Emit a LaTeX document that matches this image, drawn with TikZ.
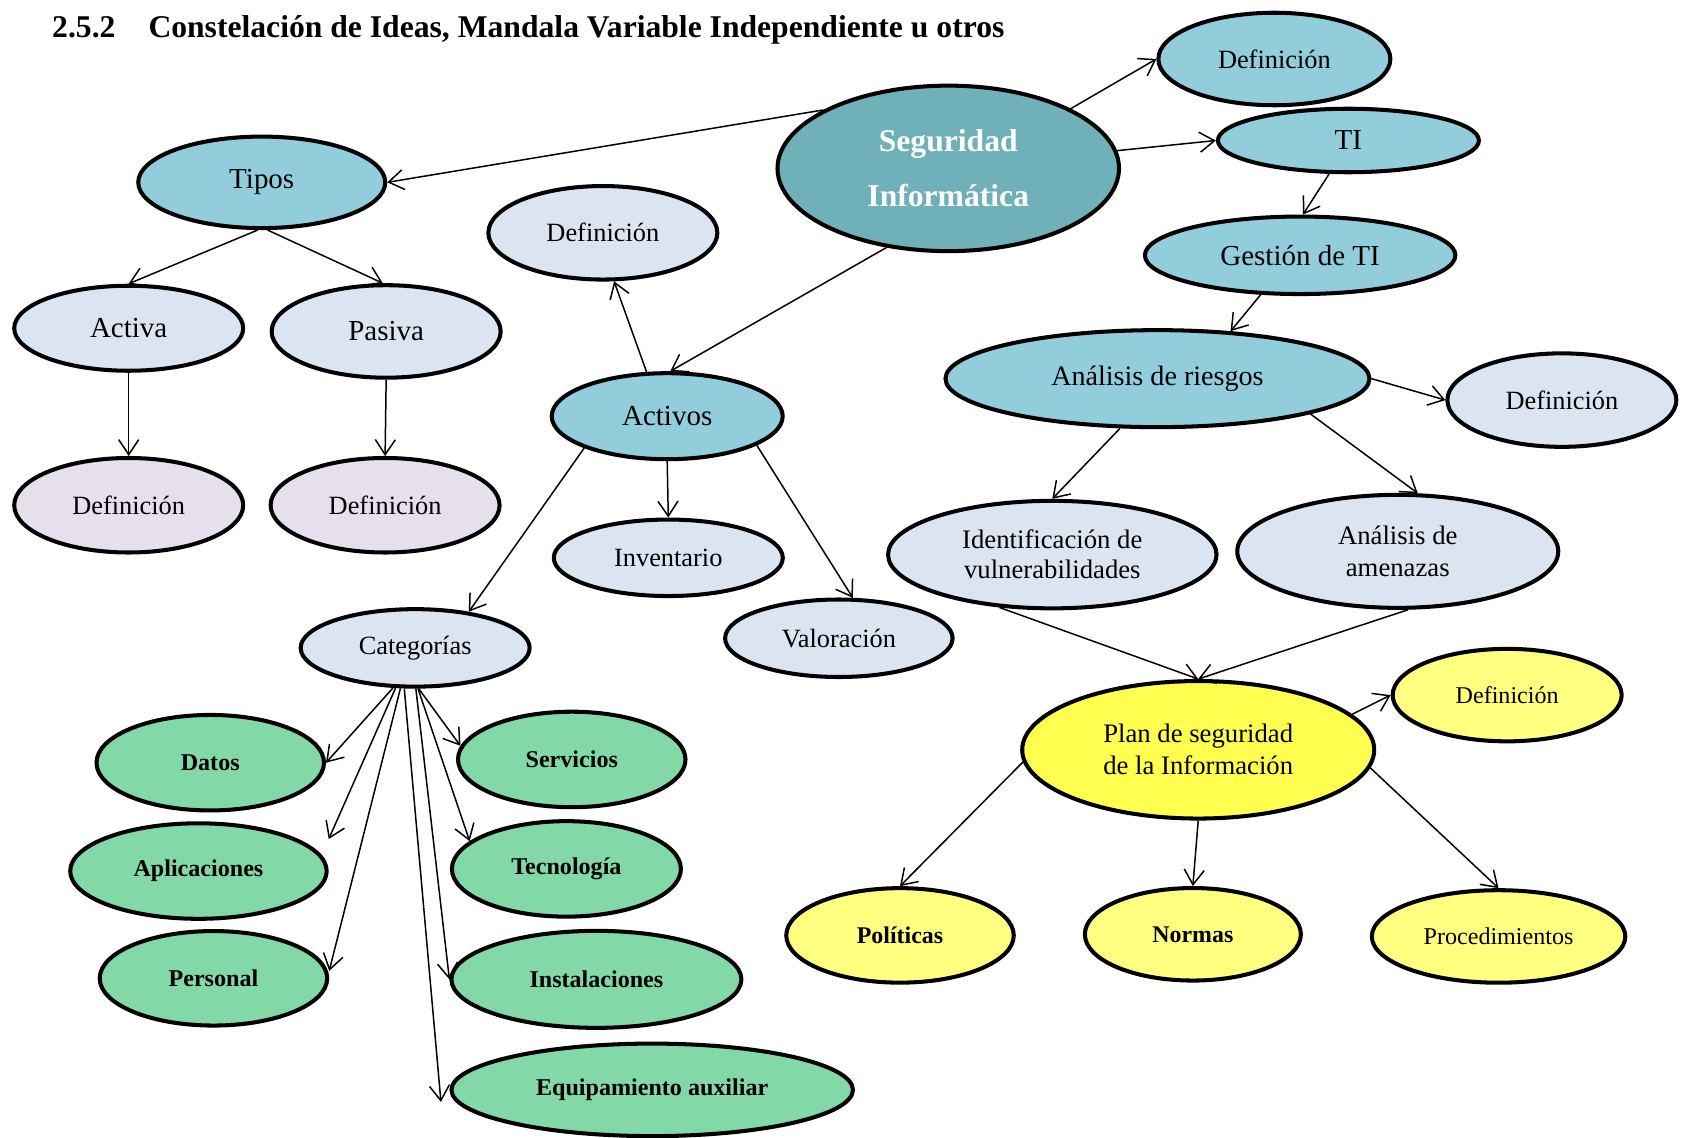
\documentclass[tikz,border=0pt]{standalone}
\usepackage{fontspec}
\setmainfont{Liberation Serif}
\usetikzlibrary{arrows.meta,shapes.geometric}

\definecolor{cTeal}{HTML}{70B0B9}
\definecolor{cAzul}{HTML}{92CDDC}
\definecolor{cGris}{HTML}{DBE5F1}
\definecolor{cLila}{HTML}{E5E0EC}
\definecolor{cVerde}{HTML}{82D8A6}
\definecolor{cAmarillo}{HTML}{FFFF50}
\definecolor{cAmarilloClaro}{HTML}{FFFF80}

\begin{document}
\begin{tikzpicture}[->,>={Straight Barb[length=3mm,width=4mm]},line width=0.85pt,
    nodo/.style={ellipse,draw=black,line width=2.3pt,inner sep=0pt,align=center,
        font=\fontsize{15}{17.5}\selectfont},
    grande/.style={font=\fontsize{16.5}{19}\selectfont},
    azul/.style={nodo,fill=cAzul},
    gris/.style={nodo,fill=cGris},
    lila/.style={nodo,fill=cLila},
    verde/.style={nodo,fill=cVerde,font=\bfseries\fontsize{13.7}{16}\selectfont},
    amarillo/.style={nodo,fill=cAmarilloClaro,font=\fontsize{13.7}{16}\selectfont}]
            \path[use as bounding box](0,0)rectangle(33.64,-22.76);
            \node[anchor=base west,inner sep=0pt,font=\bfseries\fontsize{18}{21}\selectfont](titulo)at(1.03,-0.75)
                {2.5.2\hspace{0.66cm}Constelación de Ideas, Mandala Variable Independiente u otros};
            % centro
            \node[nodo,fill=cTeal,text=white,font=\bfseries\fontsize{18}{31}\selectfont,minimum width=6.83cm,minimum height=3.31cm](seg)at(18.965,-3.368){Seguridad\\Informática};
            \node[azul,minimum width=4.64cm,minimum height=1.85cm](defSeg)at(25.487,-1.180){Definición};
            \node[azul,grande,minimum width=5.22cm,minimum height=1.27cm](ti)at(26.968,-2.810){TI};
            \node[azul,grande,minimum width=6.21cm,minimum height=1.55cm](gestion)at(26.002,-5.106){Gestión de TI};
            % tipos
            \node[azul,grande,minimum width=4.94cm,minimum height=1.83cm](tipos)at(5.235,-3.647){Tipos};
            \node[gris,grande,minimum width=4.58cm,minimum height=1.70cm](activa)at(2.574,-6.565){Activa};
            \node[gris,grande,minimum width=4.58cm,minimum height=1.85cm](pasiva)at(7.723,-6.629){Pasiva};
            \node[lila,minimum width=4.58cm,minimum height=1.89cm](defActiva)at(2.574,-10.105){Definición};
            \node[lila,minimum width=4.58cm,minimum height=1.89cm](defPasiva)at(7.702,-10.105){Definición};
            % activos
            \node[gris,minimum width=4.58cm,minimum height=1.87cm](defActivos)at(12.057,-4.656){Definición};
            \node[azul,grande,minimum width=4.62cm,minimum height=1.72cm](activos)at(13.344,-8.324){Activos};
            \node[gris,minimum width=4.58cm,minimum height=1.53cm](inventario)at(13.366,-11.156){Inventario};
            \node[gris,minimum width=4.55cm,minimum height=1.55cm](valoracion)at(16.777,-12.765){Valoración};
            \node[gris,minimum width=4.58cm,minimum height=1.55cm](categorias)at(8.303,-12.958){Categorías};
            % categorias
            \node[verde,minimum width=4.55cm,minimum height=1.91cm](datos)at(4.205,-15.254){Datos};
            \node[verde,minimum width=4.55cm,minimum height=1.91cm](servicios)at(11.435,-15.189){Servicios};
            \node[verde,minimum width=5.13cm,minimum height=1.91cm](aplicaciones)at(3.969,-17.421){Aplicaciones};
            \node[verde,minimum width=4.58cm,minimum height=1.91cm](tecnologia)at(11.328,-17.378){Tecnología};
            \node[verde,minimum width=4.55cm,minimum height=1.89cm](personal)at(4.269,-19.566){Personal};
            \node[verde,minimum width=5.80cm,minimum height=1.94cm](instalaciones)at(11.928,-19.587){Instalaciones};
            \node[verde,minimum width=8.03cm,minimum height=1.85cm](equipamiento)at(13.044,-21.797){Equipamiento auxiliar};
            % riesgos
            \node[azul,font=\fontsize{16}{19}\selectfont,minimum width=8.48cm,minimum height=1.94cm](analisis)at(23.149,-7.573){Análisis de riesgos};
            \node[gris,minimum width=4.58cm,minimum height=1.87cm](defAnalisis)at(31.237,-8.002){Definición};
            \node[gris,font=\fontsize{15.2}{17}\selectfont,minimum width=6.57cm,minimum height=2.15cm](vulnera)at(21.046,-11.092){Identificación de\\vulnerabilidades};
            \node[gris,font=\fontsize{15.2}{17.7}\selectfont,minimum width=6.42cm,minimum height=2.26cm](amenazas)at(27.955,-11.027){Análisis de\\amenazas};
            % plan
            \node[nodo,fill=cAmarillo,font=\fontsize{15.2}{18.2}\selectfont,minimum width=7.04cm,minimum height=2.75cm](plan)at(23.964,-14.996){Plan de seguridad\\de la Información};
            \node[amarillo,minimum width=4.58cm,minimum height=1.85cm](defPlan)at(30.143,-13.902){Definición};
            \node[amarillo,font=\bfseries\fontsize{13.6}{16}\selectfont,minimum width=4.55cm,minimum height=1.89cm](politicas)at(18.000,-18.708){Políticas};
            \node[amarillo,font=\bfseries\fontsize{13.6}{16}\selectfont,minimum width=4.32cm,minimum height=1.85cm](normas)at(23.857,-18.686){Normas};
            \node[amarillo,minimum width=5.07cm,minimum height=1.85cm](procedimientos)at(29.971,-18.729){Procedimientos};
            \path[](seg.155) edge (tipos.east)
            (seg.26) edge (defSeg.west)
            (seg.6) edge (ti.west)
            (ti.240) edge (gestion.86)
            (gestion.225) edge (analisis.33)
            (seg.232) edge (activos.86)
            (tipos.265) edge (activa.north)
            (tipos.277) edge (pasiva.94)
            (activa.south) edge (defActiva.north)
            (pasiva.south) edge (defPasiva.north)
            (activos.115) edge (defActivos.283)
            (activos.south) edge (inventario.north)
            (activos.342) edge (valoracion.71)
            (activos.201) edge (categorias.34);
            \path[](categorias.241) edge (datos.east)
            (categorias.244) edge ([yshift=0.64cm]aplicaciones.east)
            (categorias.250) edge ([yshift=0.15cm]personal.east)
            (categorias.255) edge ([xshift=-0.17cm,yshift=-0.24cm]equipamiento.west)
            (categorias.271) edge (instalaciones.west)
            (categorias.274) edge (tecnologia.164)
            (categorias.275) edge (servicios.173);
            \path[](analisis.east) edge (defAnalisis.west)
            (analisis.233) edge (vulnera.north)
            (analisis.347) edge (amenazas.71)
            (vulnera.225) edge (plan.north)
            (amenazas.280) edge (plan.north)
            (plan.13) edge (defPlan.west)
            (plan.184) edge (politicas.north)
            (plan.south) edge (normas.north)
            (plan.354) edge (procedimientos.north);
        \end{tikzpicture}
\end{document}
